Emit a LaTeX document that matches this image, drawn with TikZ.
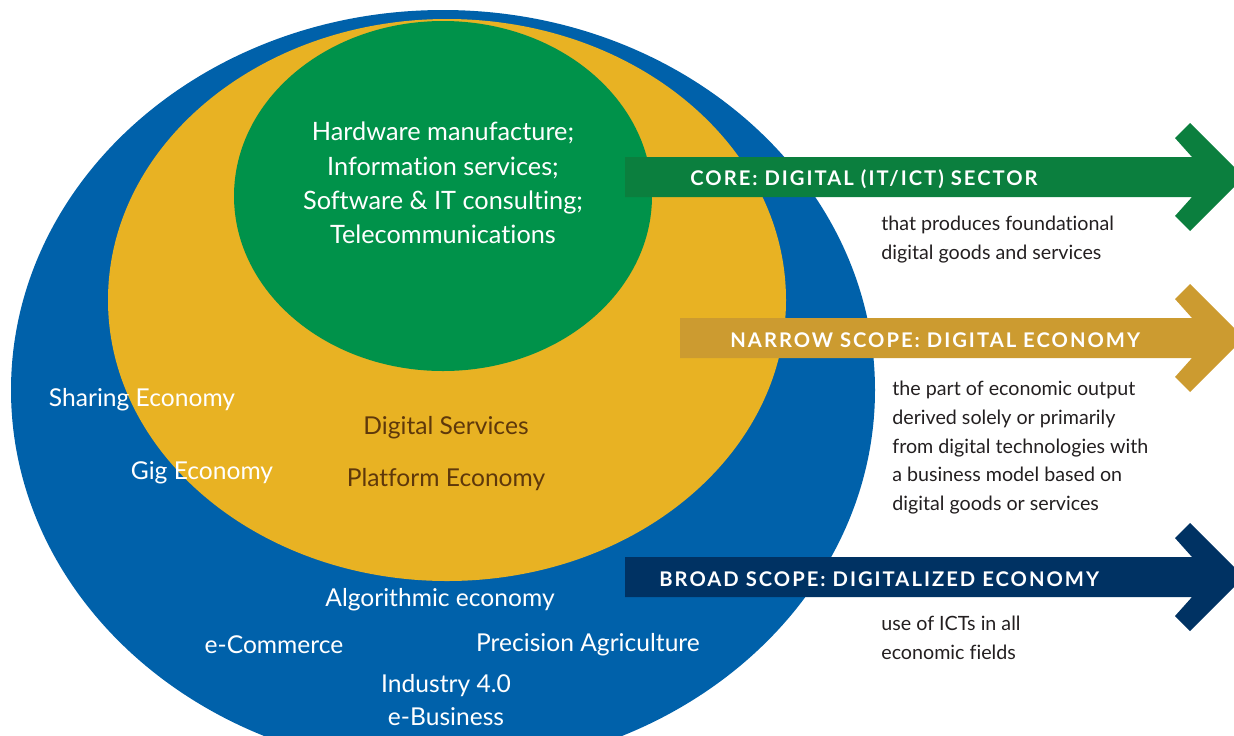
\documentclass[tikz,border=0pt]{standalone}
\usepackage{fontspec}
\setmainfont{Lato}[Ligatures={NoCommon}]
\newfontfamily\barfont[LetterSpace=10]{Lato}
\definecolor{bluering}{HTML}{0061AA}
\definecolor{goldring}{HTML}{E8B223}
\definecolor{greencore}{HTML}{00924A}
\definecolor{corearrow}{HTML}{0B7F3E}
\definecolor{narrowarrow}{HTML}{CC9B30}
\definecolor{broadarrow}{HTML}{003263}
\definecolor{servbrown}{HTML}{5E380B}
\definecolor{desccol}{HTML}{231F20}

\begin{document}
\begin{tikzpicture}[x=0.02cm, y=-0.02cm,
  ringtext/.style={font=\fontsize{14}{19.6}\selectfont, text=white, inner sep=0pt, align=center},
  servtext/.style={ringtext, text=servbrown},
  bartext/.style={font=\barfont\bfseries\fontsize{11.5}{14}\selectfont, text=white, anchor=west, inner sep=0pt},
  desctext/.style={font=\fontsize{11.2}{16.3}\selectfont, text=desccol, align=left, anchor=north west, inner sep=0pt}]
  \clip (0,0) rectangle (1234,735);
  \fill[bluering] (443,390) ellipse [x radius=432, y radius=380];
  \fill[goldring] (447,300) ellipse [x radius=339, y radius=281];
  \fill[greencore] (443,196) ellipse [x radius=209, y radius=175];
  \foreach \yc/\xs/\col in {177/625/corearrow, 338/680/narrowarrow, 577/625/broadarrow}
    \fill[\col] (\xs,\yc-20) -- (1192,\yc-20) -- (1175,\yc-39) -- (1190,\yc-54) -- (1244,\yc)
      -- (1190,\yc+54) -- (1175,\yc+39) -- (1192,\yc+20) -- (\xs,\yc+20) -- cycle;
  \node[ringtext, font=\fontsize{14.4}{19.6}\selectfont] (core) at (443,183) {Hardware manufacture;\\Information services;\\Software \& IT consulting;\\Telecommunications};
  \node[servtext] (digserv) at (446,428) {Digital Services};
  \node[servtext] (platform) at (446,480) {Platform Economy};
  \node[ringtext] (sharing) at (142,400) {Sharing Economy};
  \node[ringtext] (gig) at (202,473) {Gig Economy};
  \node[ringtext] (algo) at (440,600) {Algorithmic economy};
  \node[ringtext] (ecomm) at (274,645) {e-Commerce};
  \node[ringtext] (precision) at (588,645) {Precision Agriculture};
  \node[ringtext] (industry) at (446,686) {Industry 4.0};
  \node[ringtext] (ebusiness) at (446,717) {e-Business};
  \node[bartext] (corehead) at (690,179) {CORE: DIGITAL (IT/ICT) SECTOR};
  \node[bartext] (narrowhead) at (730,340) {NARROW SCOPE: DIGITAL ECONOMY};
  \node[bartext] (broadhead) at (659,579) {BROAD SCOPE: DIGITALIZED ECONOMY};
  \node[desctext] (coredesc) at (881,216) {that produces foundational\\digital goods and services};
  \node[desctext] (narrowdesc) at (892,381) {the part of economic output\\derived solely or primarily\\from digital technologies with\\a business model based on\\digital goods or services};
  \node[desctext] (broaddesc) at (881,616) {use of ICTs in all\\economic fields};
\end{tikzpicture}
\end{document}
